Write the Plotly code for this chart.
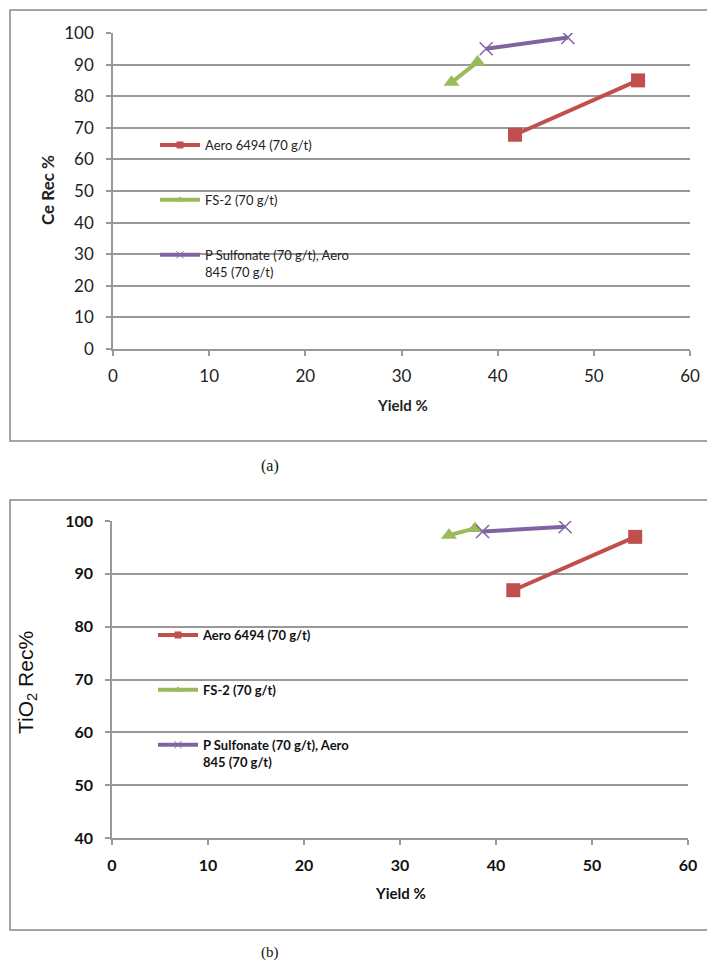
import plotly.graph_objects as go

W, H = 715, 969          # browser window
PAD = 8                  # default body margin of the page
FW, FH = W - 2 * PAD, H - 2 * PAD

# ---------------- data ----------------
series_names = ["Aero 6494 (70 g/t)", "FS-2 (70 g/t)", "P Sulfonate (70 g/t), Aero<br>845 (70 g/t)"]

# panel (a): Ce recovery
ce_aero_x = [41.8, 54.6]
ce_aero_y = [67.8, 85.0]
ce_fs2_x = [35.2, 37.9]
ce_fs2_y = [84.4, 90.8]
ce_psul_x = [38.8, 47.3]
ce_psul_y = [95.0, 98.6]

# panel (b): TiO2 recovery
ti_aero_x = [41.8, 54.5]
ti_aero_y = [86.9, 97.0]
ti_fs2_x = [35.1, 37.8]
ti_fs2_y = [97.3, 98.6]
ti_psul_x = [38.6, 47.2]
ti_psul_y = [98.0, 98.9]

x_ticks = [0, 10, 20, 30, 40, 50, 60]
ya_ticks = [0, 10, 20, 30, 40, 50, 60, 70, 80, 90, 100]
yb_ticks = [40, 50, 60, 70, 80, 90, 100]

colors = ["#C0504D", "#9BBB59", "#8064A2"]
symbols = ["square", "triangle-up", "x-thin"]

GRID = "#999999"


def px_x(p):
    return (p - PAD) / FW


def px_y(p):
    return 1 - (p - PAD) / FH


fig = go.Figure()

panels = [
    dict(xa="x", ya="y", legend="legend",
         data=[(ce_aero_x, ce_aero_y), (ce_fs2_x, ce_fs2_y), (ce_psul_x, ce_psul_y)]),
    dict(xa="x2", ya="y2", legend="legend2",
         data=[(ti_aero_x, ti_aero_y), (ti_fs2_x, ti_fs2_y), (ti_psul_x, ti_psul_y)]),
]

for p in panels:
    for i, (xs, ys) in enumerate(p["data"]):
        mk = dict(symbol=symbols[i], color=colors[i], size=14)
        if symbols[i] == "x-thin":
            mk.update(size=13, line=dict(color=colors[i], width=1.5))
        fig.add_trace(go.Scatter(
            x=xs, y=ys, mode="lines+markers", xaxis=p["xa"], yaxis=p["ya"],
            line=dict(color=colors[i], width=4), marker=mk,
            showlegend=False, hoverinfo="x+y"))
    # legend entries (small markers, like the original)
    for i in range(3):
        mk = dict(symbol=symbols[i], color=colors[i], size=7)
        if symbols[i] == "x-thin":
            mk.update(line=dict(color=colors[i], width=1))
        fig.add_trace(go.Scatter(
            x=[None], y=[None], mode="lines+markers", xaxis=p["xa"], yaxis=p["ya"],
            line=dict(color=colors[i], width=4), marker=mk, name=series_names[i],
            legend=p["legend"], legendgroup=f"{p['legend']}_{i}", showlegend=True))

axis_common = dict(
    showline=True, linecolor=GRID, linewidth=1.5,
    ticks="outside", ticklen=5, tickcolor=GRID, tickwidth=1.5,
    zeroline=False, fixedrange=True, automargin=False,
)

fa = dict(family="Lato, sans-serif", size=17, color="#222")
fb = dict(family="Lato, sans-serif", size=16, color="#111", weight="bold")


def note(text, x, y, font, angle=0):
    return dict(text=text, x=px_x(x), y=px_y(y), xref="paper", yref="paper",
                xanchor="center", yanchor="middle", textangle=angle,
                showarrow=False, font=font)


fig.update_layout(
    width=FW, height=FH,
    margin=dict(l=0, r=0, t=0, b=0, pad=0, autoexpand=False),
    paper_bgcolor="white", plot_bgcolor="white",
    xaxis=dict(domain=[px_x(113), px_x(690)], range=[0, 60], tickvals=x_ticks,
               showgrid=False, anchor="y", ticklabelstandoff=6, tickfont=fa, **axis_common),
    yaxis=dict(domain=[px_y(349), px_y(33)], range=[0, 100], tickvals=ya_ticks,
               showgrid=True, gridcolor=GRID, gridwidth=1.5, anchor="x", ticklabelstandoff=9,
               tickfont=fa, **axis_common),
    xaxis2=dict(domain=[px_x(112), px_x(688)], range=[0, 60], tickvals=x_ticks,
                showgrid=False, anchor="y2", ticklabelstandoff=7, tickfont=fb, **axis_common),
    yaxis2=dict(domain=[px_y(838), px_y(521)], range=[40, 100], tickvals=yb_ticks,
                showgrid=True, gridcolor=GRID, gridwidth=1.5, anchor="x2", ticklabelstandoff=9,
                tickfont=fb, **axis_common),
    legend=dict(x=px_x(155), y=px_y(130), xanchor="left", yanchor="top",
                bgcolor="rgba(0,0,0,0)", tracegroupgap=35, valign="top", itemwidth=40,
                font=dict(family="Lato, sans-serif", size=13, color="#222")),
    legend2=dict(x=px_x(153), y=px_y(620), xanchor="left", yanchor="top",
                 bgcolor="rgba(0,0,0,0)", tracegroupgap=35, valign="top", itemwidth=40,
                 font=dict(family="Lato, sans-serif", size=13, color="#111", weight="bold")),
    shapes=[
        dict(type="rect", xref="paper", yref="paper", x0=px_x(10), x1=1.05,
             y0=px_y(441), y1=px_y(10), line=dict(color="#888888", width=1.5)),
        dict(type="rect", xref="paper", yref="paper", x0=px_x(10), x1=1.05,
             y0=px_y(930), y1=px_y(500), line=dict(color="#888888", width=1.5)),
    ],
    annotations=[
        note("<b>Ce Rec %</b>", 47, 190, dict(family="Lato, sans-serif", size=17, color="#222"), -90),
        note("<b>Yield %</b>", 402, 405, dict(family="Lato, sans-serif", size=15, color="#222")),
        note("TiO<sub>2</sub> Rec%", 27, 683,
             dict(family="Liberation Sans, Arial, sans-serif", size=21, color="#111"), -90),
        note("<b>Yield %</b>", 400, 893, dict(family="Lato, sans-serif", size=15, color="#111")),
        note("(a)", 270, 466, dict(family="Liberation Serif, Times New Roman, serif", size=16, color="#111")),
        note("(b)", 270, 952, dict(family="Liberation Serif, Times New Roman, serif", size=15, color="#111")),
    ],
)

fig.write_html("out.html")
